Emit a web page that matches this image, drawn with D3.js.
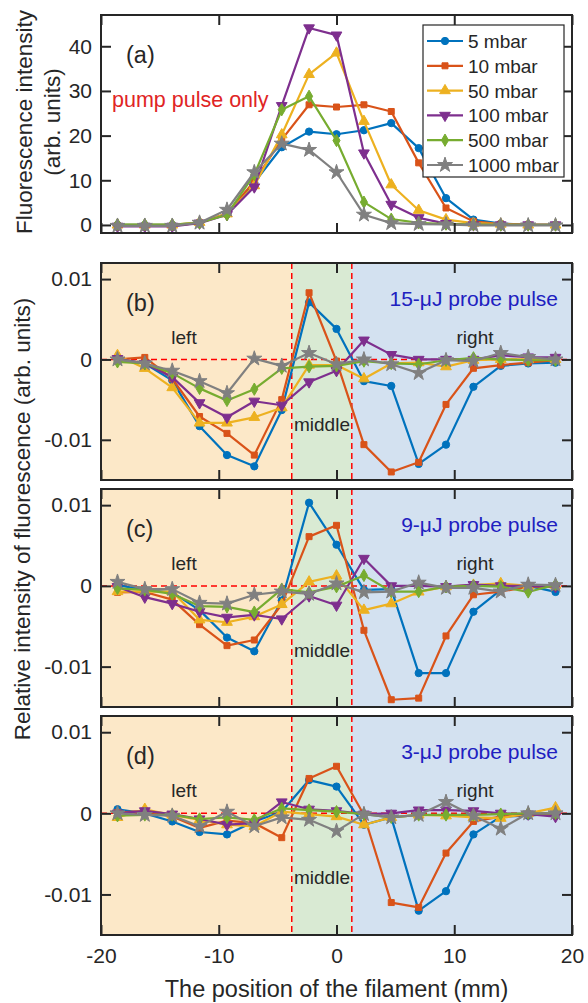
<!DOCTYPE html>
<html>
<head>
<meta charset="utf-8">
<title>Filament fluorescence</title>
<style>
  html, body { margin: 0; padding: 0; background: #fff; }
  svg { display: block; }
  text { font-family: "Liberation Sans", Arial, Helvetica, sans-serif; fill: #262626; }
  .axis path { display: none; }
  .axis line { stroke: #262626; stroke-width: 2; }
  .axis text { font-size: 21px; fill: #262626; }
</style>
</head>
<body>
<svg id="chart"></svg>
<script src="https://cdn.jsdelivr.net/npm/d3@7"></script>
<script>
// positions along the filament (mm)
var xPos = [-18.6, -16.28, -13.95, -11.63, -9.3, -6.98, -4.65, -2.33, 0,
            2.33, 4.65, 6.98, 9.3, 11.63, 13.95, 16.28, 18.6];

var pressures = ["5 mbar", "10 mbar", "50 mbar", "100 mbar", "500 mbar", "1000 mbar"];
var colors = ["#0072BD", "#D95319", "#EDB120", "#7E2F8E", "#77AC30", "#808080"];

// (a) pump pulse only, one row per pressure
var fluoA = [
  [0, 0, 0, 0.5, 2.5, 9.5, 17.4, 20.9, 20.3, 21.2, 22.8, 17.2, 6.0, 1.2, 0.3, 0, 0],
  [-0.2, -0.2, -0.2, 0.5, 2.5, 9.8, 19.1, 26.9, 26.4, 26.9, 25.4, 13.9, 3.8, 0.8, 0.2, 0, 0],
  [0, 0, 0, 0.6, 2.5, 8.8, 20.2, 33.7, 38.5, 23.2, 9.0, 3.3, 1.2, 0.4, 0.2, 0, 0],
  [-0.3, -0.3, -0.3, 0.4, 2.3, 8.5, 26.7, 44.1, 42.5, 16.1, 4.6, 1.6, 0.3, 0, 0, 0, 0],
  [0.1, 0.1, 0.1, 0.5, 2.3, 11.3, 25.8, 28.8, 18.9, 5.1, 1.3, 0.5, 0.2, 0.1, 0, 0, 0],
  [-0.2, -0.2, -0.2, 0.5, 3.4, 11.8, 18.2, 16.8, 11.8, 2.3, 0.4, 0.2, 0.1, -0.1, -0.1, -0.1, -0.1]
];

// (b) 15-uJ probe
var relB = [
  [0, -0.0005, -0.0026, -0.0083, -0.0119, -0.0133, -0.0063, 0.0071, 0.0038, -0.0027, -0.0033, -0.013, -0.0106, -0.0034, -0.0008, -0.0005, -0.0004],
  [0, 0.00025, -0.0024, -0.0071, -0.0092, -0.0119, -0.005, 0.0083, -0.0002, -0.0106, -0.014, -0.0128, -0.0056, -0.0011, -0.0007, -0.0004, -0.0001],
  [0.0005, -0.0011, -0.0035, -0.0079, -0.0079, -0.0072, -0.006, -0.0007, -0.0007, -0.0024, -0.0005, -0.0004, -0.0009, -0.0001, 0, 0, 0],
  [0.0001, -0.0005, -0.0022, -0.0054, -0.0072, -0.0052, -0.0057, -0.0028, -0.0014, 0.0024, 0.0006, 0, 0, 0, 0.0005, 0.0003, 0.00025],
  [-0.0003, -0.0005, -0.0017, -0.0036, -0.0051, -0.0037, -0.0011, -0.0009, -0.0008, -0.0002, -0.0005, -0.0006, -0.0001, 0.0002, 0, -0.0001, -0.0001],
  [0, -0.0005, -0.0014, -0.0027, -0.0042, 0.0001, -0.0008, 0.0008, -0.0006, 0, -0.0006, -0.0017, -0.0001, -0.0002, 0.0008, 0.0003, 0]
];

// (c) 9-uJ probe
var relC = [
  [0.0001, -0.0005, -0.0008, -0.003, -0.0064, -0.0081, -0.0018, 0.0103, 0.0051, -0.0005, -0.0004, -0.0108, -0.0108, -0.0032, -0.0005, 0, -0.00075],
  [-0.0008, -0.00075, -0.0017, -0.0048, -0.0074, -0.0067, -0.0023, 0.0061, 0.0075, -0.0055, -0.0141, -0.0139, -0.0062, -0.0011, -0.0007, -0.0001, -0.0001],
  [-0.0007, -0.0007, -0.0007, -0.0042, -0.0045, -0.0038, -0.0023, 0.0005, 0.00125, -0.003, -0.0022, -0.00075, -0.0001, 0.0001, 0.0003, 0, 0.0001],
  [-0.0001, -0.0014, -0.0022, -0.0032, -0.0039, -0.0036, -0.0041, -0.00125, -0.0024, 0.0034, 0, 0, -0.0001, 0.00015, 0, 0, -0.0001],
  [-0.0003, -0.0005, -0.001, -0.0025, -0.0026, -0.00325, -0.0004, -0.0008, -0.0001, 0.0013, -0.0007, -0.0007, -0.0001, 0, -0.0001, -0.00075, 0.00015],
  [0.0005, -0.0004, -0.0004, -0.0021, -0.0022, -0.0011, -0.0007, -0.001, 0.0003, -0.0008, -0.0007, 0.0004, -0.00025, -0.00025, -0.0007, 0.00015, 0.0001]
];

// (d) 3-uJ probe
var relD = [
  [0.0005, 0, -0.001, -0.0023, -0.0026, -0.001, 0.0002, 0.0041, 0.0033, -0.0014, -0.0005, -0.012, -0.0096, -0.0026, -0.0004, -0.0003, 0],
  [0.0001, 0.0003, -0.0004, -0.0018, -0.0009, -0.0012, -0.003, 0.0043, 0.0058, -0.0002, -0.011, -0.0116, -0.0049, -0.001, -0.0004, -0.0002, 0],
  [-0.0005, 0.0005, -0.0002, -0.0008, -0.0014, -0.0016, 0.0002, -0.0001, -0.0004, -0.0014, -0.0005, -0.0002, -0.0003, -0.0005, -0.0006, 0, 0.0007],
  [0, 0.0003, -0.0001, -0.0007, -0.0014, -0.0012, 0.0014, 0.0005, 0.0003, -0.0001, 0, 0.0004, 0.0004, 0.0003, 0, -0.0001, -0.0004],
  [-0.0003, -0.0002, -0.0002, -0.0007, -0.0005, -0.0008, 0.0006, 0.0004, 0.0002, -0.0001, -0.0005, -0.0002, -0.0002, -0.0002, -0.0001, 0, 0],
  [0, -0.0002, -0.0003, -0.0016, 0.0002, -0.0016, -0.0005, -0.0008, -0.0022, -0.0001, -0.0005, -0.0002, 0.0014, -0.0003, -0.0019, 0, 0]
];

var xTicks = [-20, -10, 0, 10, 20];
var yTicksA = [0, 10, 20, 30, 40];
var yTicksRel = [-0.01, 0, 0.01];
var regionEdges = [-20, -3.8, 1.3, 20];
var regionColors = ["#FCE8C8", "#D9EAD3", "#D3E1F0"];
var regionNames = ["left", "middle", "right"];

var width = 588, height = 1003;
var svg = d3.select("#chart").attr("width", width).attr("height", height);

var x = d3.scaleLinear().domain([-20, 20]).range([101, 572]);

var panels = [
  {label: "(a)", data: fluoA, top: 15, bottom: 233, domain: [-1.8, 47], ticks: yTicksA},
  {label: "(b)", data: relB, top: 263, bottom: 480, domain: [-0.015, 0.012], ticks: yTicksRel, probe: "15-\u03bcJ probe pulse"},
  {label: "(c)", data: relC, top: 489, bottom: 707, domain: [-0.015, 0.012], ticks: yTicksRel, probe: "9-\u03bcJ probe pulse"},
  {label: "(d)", data: relD, top: 716, bottom: 935, domain: [-0.015, 0.012], ticks: yTicksRel, probe: "3-\u03bcJ probe pulse"}
];

var symbols = [
  d3.symbol().type(d3.symbolCircle).size(42),
  d3.symbol().type(d3.symbolSquare).size(36),
  d3.symbol().type(d3.symbolTriangle).size(50),
  d3.symbol().type(d3.symbolTriangle).size(50),
  d3.symbol().type(d3.symbolDiamond).size(44),
  d3.symbol().type(d3.symbolStar).size(70)
];
var rotations = [0, 0, 0, 180, 0, 0];

panels.forEach(function(p, pi) {
  var y = d3.scaleLinear().domain(p.domain).range([p.bottom, p.top]);
  var g = svg.append("g");
  var last = pi === panels.length - 1;

  if (pi > 0) {
    // shaded regions
    g.selectAll("rect.region")
      .data(regionColors)
      .enter().append("rect")
      .attr("x", function(d, i) { return x(regionEdges[i]); })
      .attr("y", p.top)
      .attr("width", function(d, i) { return x(regionEdges[i + 1]) - x(regionEdges[i]); })
      .attr("height", p.bottom - p.top)
      .attr("fill", function(d) { return d; });

    // dashed red guides
    g.append("line")
      .attr("x1", x(-20)).attr("x2", x(20))
      .attr("y1", y(0)).attr("y2", y(0))
      .attr("stroke", "#ff0000").attr("stroke-width", 1.5).attr("stroke-dasharray", "6,4");
    g.selectAll("line.vguide")
      .data([regionEdges[1], regionEdges[2]])
      .enter().append("line")
      .attr("x1", function(d) { return x(d); }).attr("x2", function(d) { return x(d); })
      .attr("y1", p.top).attr("y2", p.bottom)
      .attr("stroke", "#ff0000").attr("stroke-width", 1.5).attr("stroke-dasharray", "6,4");
  }

  // series
  var line = d3.line()
    .x(function(d, i) { return x(xPos[i]); })
    .y(function(d) { return y(d); });

  p.data.forEach(function(vals, si) {
    g.append("path")
      .datum(vals)
      .attr("d", line)
      .attr("fill", "none")
      .attr("stroke", colors[si])
      .attr("stroke-width", 2.2)
      .attr("stroke-linejoin", "round");
    g.selectAll("path.m" + si)
      .data(vals)
      .enter().append("path")
      .attr("class", "m" + si)
      .attr("d", symbols[si])
      .attr("transform", function(d, i) {
        return "translate(" + x(xPos[i]) + "," + y(d) + ") rotate(" + rotations[si] + ")";
      })
      .attr("fill", colors[si])
      .attr("stroke", colors[si])
      .attr("stroke-width", 1);
  });

  // axes with inward ticks on all sides
  var fmtY = pi === 0 ? function(d) { return String(d); }
                      : function(d) { return d === 0 ? "0" : d.toFixed(2); };
  g.append("g").attr("class", "axis")
    .attr("transform", "translate(0," + p.bottom + ")")
    .call(d3.axisBottom(x).tickValues(xTicks).tickSize(-10).tickPadding(13)
      .tickFormat(last ? function(d) { return String(d); } : function() { return ""; }));
  g.append("g").attr("class", "axis")
    .attr("transform", "translate(0," + p.top + ")")
    .call(d3.axisTop(x).tickValues(xTicks).tickSize(-10).tickFormat(function() { return ""; }));
  g.append("g").attr("class", "axis")
    .attr("transform", "translate(" + x(-20) + ",0)")
    .call(d3.axisLeft(y).tickValues(p.ticks).tickSize(-10).tickPadding(9).tickFormat(fmtY));
  g.append("g").attr("class", "axis")
    .attr("transform", "translate(" + x(20) + ",0)")
    .call(d3.axisRight(y).tickValues(p.ticks).tickSize(-10).tickFormat(function() { return ""; }));

  g.append("rect")
    .attr("x", x(-20)).attr("y", p.top)
    .attr("width", x(20) - x(-20)).attr("height", p.bottom - p.top)
    .attr("fill", "none").attr("stroke", "#262626").attr("stroke-width", 2);

  // annotations
  g.append("text").attr("x", 126).attr("y", p.top + 48)
    .style("font-size", "23.5px").text(p.label);

  if (pi === 0) {
    g.append("text").attr("x", 112).attr("y", 107)
      .style("font-size", "21.5px").style("fill", "#E02424").text("pump pulse only");
  } else {
    g.append("text").attr("x", 558).attr("y", p.top + 43)
      .attr("text-anchor", "end")
      .style("font-size", "21px").style("fill", "#2020C0").text(p.probe);
    g.append("text").attr("x", 184).attr("y", p.top + 81).attr("text-anchor", "middle")
      .style("font-size", "19px").text(regionNames[0]);
    g.append("text").attr("x", 322).attr("y", p.top + 168).attr("text-anchor", "middle")
      .style("font-size", "19px").text(regionNames[1]);
    g.append("text").attr("x", 475).attr("y", p.top + 81).attr("text-anchor", "middle")
      .style("font-size", "19px").text(regionNames[2]);
  }
});

// legend in panel (a)
var legend = svg.append("g").attr("transform", "translate(423,25)");
legend.append("rect").attr("width", 141).attr("height", 152)
  .attr("fill", "#fff").attr("stroke", "#262626").attr("stroke-width", 1.2);
pressures.forEach(function(name, i) {
  var row = legend.append("g").attr("transform", "translate(0," + (16 + i * 24.8) + ")");
  row.append("line").attr("x1", 4).attr("x2", 40)
    .attr("stroke", colors[i]).attr("stroke-width", 2.2);
  row.append("path").attr("d", symbols[i])
    .attr("transform", "translate(22,0) rotate(" + rotations[i] + ")")
    .attr("fill", colors[i]).attr("stroke", colors[i]);
  row.append("text").attr("x", 45).attr("y", 7).style("font-size", "19px").text(name);
});

// axis titles
svg.append("text")
  .attr("transform", "translate(32,122) rotate(-90)")
  .attr("text-anchor", "middle").style("font-size", "22.5px")
  .text("Fluorescence intensity");
svg.append("text")
  .attr("transform", "translate(60,122) rotate(-90)")
  .attr("text-anchor", "middle").style("font-size", "22.5px")
  .text("(arb. units)");
svg.append("text")
  .attr("transform", "translate(30,519) rotate(-90)")
  .attr("text-anchor", "middle").style("font-size", "22.5px")
  .text("Relative intensity of fluorescence (arb. units)");
svg.append("text")
  .attr("x", x(0)).attr("y", 997)
  .attr("text-anchor", "middle").style("font-size", "23.5px")
  .text("The position of the filament (mm)");
</script>
</body>
</html>
